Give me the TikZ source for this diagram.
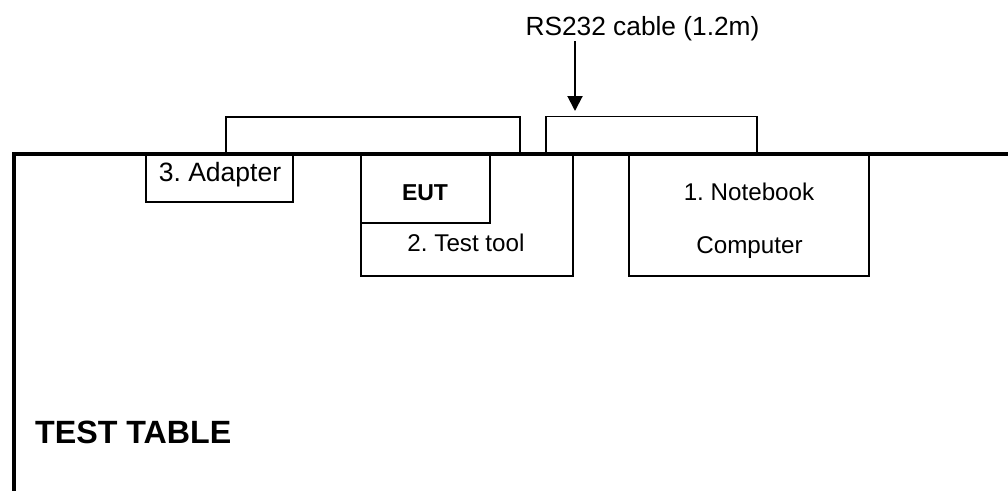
\documentclass[tikz,border=0pt]{standalone}
\usepackage{fontspec}
\setmainfont{Liberation Sans}
\usetikzlibrary{arrows.meta}
\frenchspacing
\begin{document}
\begin{tikzpicture}[x=1pt,y=-1pt,
  box/.style={draw, line width=1.4pt, rectangle, inner sep=0pt},
  lbl/.style={inner sep=0pt, anchor=base},
  cable/.style={draw, line width=1.4pt},
  tbl/.style={line width=3.5pt}]
\useasboundingbox (0,0) rectangle (1008,490);
% boxes
\node[box, minimum width=147pt, minimum height=48pt] (adapter) at (219.5,178) {};
\node[box, minimum width=212pt, minimum height=122pt] (tool) at (467,215) {};
\node[box, minimum width=129pt, minimum height=69pt] (eut) at (425.5,188.5) {};
\node[box, minimum width=240pt, minimum height=122pt] (nb) at (749,215) {};
% labels
\node[lbl, font=\fontsize{26.5}{28}\selectfont] (tadapter) at (220,181.5) {3. Adapter};
\node[lbl, font=\fontsize{23}{26}\selectfont\bfseries] (teut) at (425,200) {EUT};
\node[lbl, font=\fontsize{24.2}{26}\selectfont] (ttool) at (466,251.5) {2. Test tool};
\node[lbl, font=\fontsize{24.2}{26}\selectfont] (tnb1) at (749,200) {1. Notebook};
\node[lbl, font=\fontsize{24.2}{26}\selectfont] (tnb2) at (749.5,253) {Computer};
\node[lbl, font=\fontsize{26.3}{28}\selectfont] (rs) at (642.5,35) {RS232 cable (1.2m)};
\node[lbl, font=\fontsize{32.2}{34}\selectfont\bfseries, anchor=base west] (tt) at (35,443) {TEST TABLE};
% cables
\coordinate (c1a) at (226,154);
\coordinate (c1b) at (520,154);
\coordinate (c2a) at (546,154);
\coordinate (c2b) at (757,154);
\draw[cable] (c1a) -- (226,117) -- (520,117) -- (c1b);
\draw[cable] (c2a) -- (546,116.5) -- (757,116.5) -- (c2b);
% arrow
\coordinate (atip) at (575,111);
\draw[line width=2pt, -{Triangle[length=15pt,width=15pt]}] (575,41) -- (atip);
% table
\coordinate (tl) at (14,154);
\draw[tbl] (1010,154) -- (tl) -- (14,492);
\end{tikzpicture}
\end{document}
